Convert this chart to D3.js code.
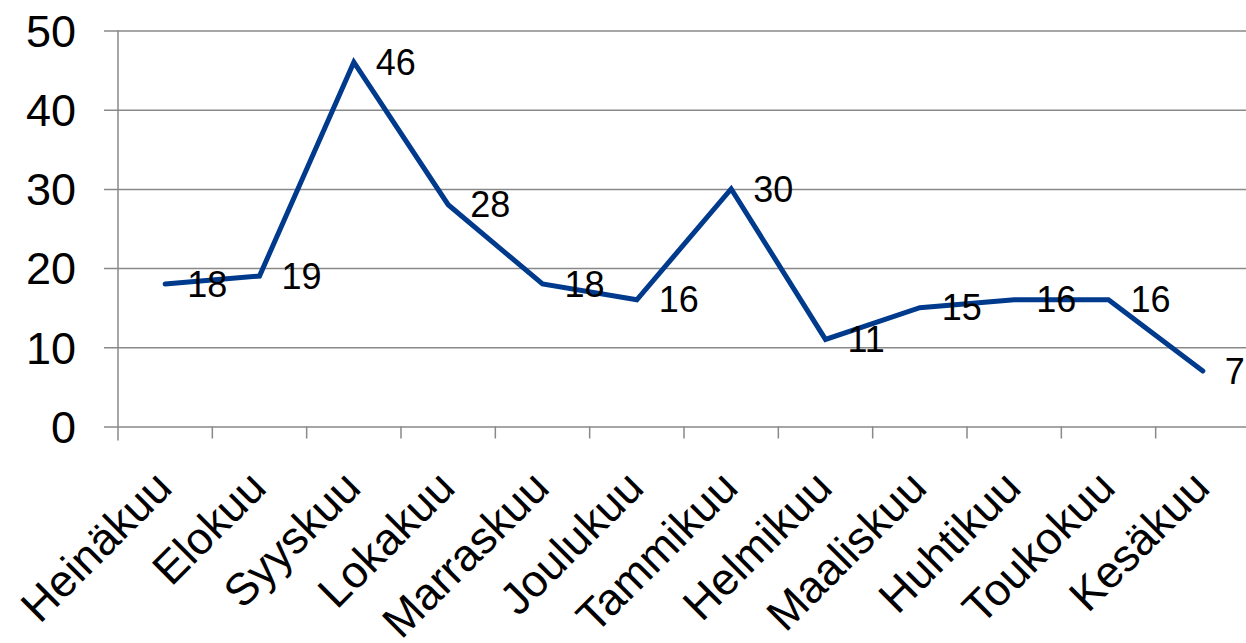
<!DOCTYPE html>
<html>
<head>
<meta charset="utf-8">
<script src="https://cdn.jsdelivr.net/npm/d3@7"></script>
<style>
  body { margin: 0; background: #fff; }
  text { font-family: "Liberation Sans", Arial, sans-serif; fill: #000; }
</style>
</head>
<body>
<script>
// chart values
const months = ["Heinäkuu", "Elokuu", "Syyskuu", "Lokakuu", "Marraskuu", "Joulukuu",
  "Tammikuu", "Helmikuu", "Maaliskuu", "Huhtikuu", "Toukokuu", "Kesäkuu"];
const values = [18, 19, 46, 28, 18, 16, 30, 11, 15, 16, 16, 7];
const yTicks = [0, 10, 20, 30, 40, 50];

const width = 1246, height = 643;
const plotLeft = 118, plotRight = 1250, plotTop = 30.5, plotBottom = 426.5;

const svg = d3.select("body").append("svg")
  .attr("width", width)
  .attr("height", height);

let x = d3.scaleBand().domain(months).range([plotLeft, plotRight]);
let y = d3.scaleLinear().domain([0, 50]).range([plotBottom, plotTop]);

// gridlines + y axis
svg.append("g")
  .attr("transform", "translate(" + plotLeft + ",0)")
  .call(d3.axisLeft(y).tickValues(yTicks).tickSize(14).tickPadding(28))
  .call(g => g.select(".domain").remove())
  .call(g => g.selectAll(".tick line")
    .attr("x2", width - plotLeft)
    .attr("x1", -14)
    .attr("stroke", "#898989")
    .attr("stroke-width", 1.5))
  .call(g => g.selectAll(".tick text")
    .style("font-size", "45px")
    .attr("dy", "0.35em"));

// vertical axis line
svg.append("line")
  .attr("x1", plotLeft).attr("x2", plotLeft)
  .attr("y1", y(50)).attr("y2", plotBottom + 14)
  .attr("stroke", "#898989")
  .attr("stroke-width", 1.5);

// category ticks at band edges
let edges = months.map(d => x(d)).concat([plotRight]);
svg.selectAll(".xtick")
  .data(edges.slice(1))
  .enter()
  .append("line")
  .attr("class", "xtick")
  .attr("x1", d => d).attr("x2", d => d)
  .attr("y1", plotBottom).attr("y2", plotBottom + 12)
  .attr("stroke", "#898989")
  .attr("stroke-width", 1.5);

// category labels
svg.selectAll(".xlabel")
  .data(months)
  .enter()
  .append("text")
  .attr("class", "xlabel")
  .attr("text-anchor", "end")
  .attr("transform", d => "translate(" + (x(d) + x.bandwidth() / 2 + 9) + "," + 490 + ") rotate(-45)")
  .style("font-size", "45px")
  .text(d => d);

// line
let line = d3.line()
  .x((d, i) => x(months[i]) + x.bandwidth() / 2)
  .y(d => y(d));

svg.append("path")
  .datum(values)
  .attr("d", line)
  .attr("fill", "none")
  .attr("stroke", "#003a8c")
  .attr("stroke-width", 5)
  .attr("stroke-linejoin", "miter")
  .attr("stroke-linecap", "round");

// data labels
svg.selectAll(".vlabel")
  .data(values)
  .enter()
  .append("text")
  .attr("class", "vlabel")
  .attr("x", (d, i) => x(months[i]) + x.bandwidth() / 2 + 22)
  .attr("y", d => y(d))
  .attr("dy", "0.35em")
  .style("font-size", "36px")
  .text(d => d);
</script>
</body>
</html>
